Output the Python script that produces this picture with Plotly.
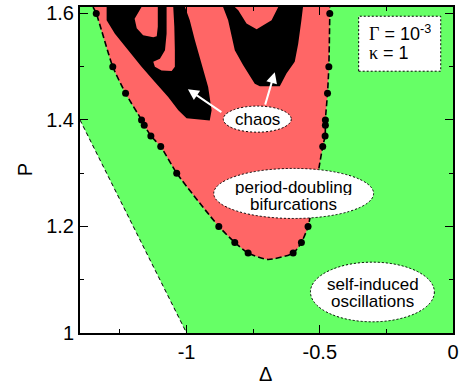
import plotly.graph_objects as go

# ---- data ----
# dots on the boundary of the period-doubling region
left_delta = [-1.339, -1.277, -1.229, -1.169, -1.159, -1.134, -1.097, -1.037, -0.879, -0.819, -0.769]
left_P = [1.60, 1.50, 1.45, 1.40, 1.39, 1.37, 1.35, 1.30, 1.20, 1.17, 1.15]
right_delta = [-0.600, -0.569, -0.544, -0.489, -0.480, -0.479, -0.479, -0.471, -0.466, -0.4625]
right_P = [1.15, 1.17, 1.20, 1.35, 1.37, 1.39, 1.40, 1.45, 1.50, 1.60]
# extra boundary points (top ends and bottom of the curve)
top_left_delta, top_left_P = -1.351, 1.612
bottom_delta, bottom_P = -0.694, 1.138
top_right_delta, top_right_P = -0.4625, 1.612

# instability line (lower-left white region)
line_delta = [-1.4, -1.0]
line_P = [1.4, 1.0]

# chaotic regions (black)
chaos_left_delta = [-1.300, -1.300, -1.269, -1.219, -1.169, -1.119, -1.069, -1.031, -1.000, -0.913,
                    -0.906, -0.919, -0.944, -0.969, -0.988, -1.006,
                    -1.050, -1.046, -1.044, -1.044, -1.056, -1.094, -1.119, -1.125, -1.100, -1.081,
                    -1.075, -1.075,
                    -1.108, -1.108, -1.112, -1.125, -1.163, -1.187, -1.195, -1.169]
chaos_left_P = [1.612, 1.587, 1.562, 1.531, 1.500, 1.471, 1.443, 1.418, 1.403, 1.399,
                1.418, 1.462, 1.506, 1.550, 1.587, 1.612,
                1.612, 1.575, 1.531, 1.500, 1.492, 1.493, 1.500, 1.509, 1.515, 1.531,
                1.562, 1.612,
                1.612, 1.575, 1.557, 1.555, 1.559, 1.572, 1.590, 1.612]
chaos_right_delta = [-0.863, -0.844, -0.819, -0.788, -0.744, -0.725, -0.650, -0.625, -0.594, -0.581,
                     -0.569, -0.563, -0.656, -0.681, -0.737, -0.775, -0.806, -0.819]
chaos_right_P = [1.612, 1.587, 1.531, 1.503, 1.468, 1.463, 1.463, 1.487, 1.509, 1.543,
                 1.587, 1.612, 1.612, 1.587, 1.570, 1.581, 1.606, 1.612]

x_tickvals = [-1, -0.5, 0]
x_ticktext = ["-1", "-0.5", "0"]
y_tickvals = [1, 1.2, 1.4, 1.6]
y_ticktext = ["1", "1.2", "1.4", "1.6"]

RED = "rgb(255,102,102)"
GREEN = "rgb(102,255,102)"
FONT = "Liberation Sans, Arial, Helvetica, sans-serif"

bnd_delta = [top_left_delta] + left_delta + [bottom_delta] + right_delta + [top_right_delta]
bnd_P = [top_left_P] + left_P + [bottom_P] + right_P + [top_right_P]

fig = go.Figure()

# white triangle (below instability line)
fig.add_trace(go.Scatter(x=line_delta + [line_delta[0]], y=line_P + [line_P[1]],
                         fill="toself", fillcolor="white", mode="none", hoverinfo="skip"))
fig.add_trace(go.Scatter(x=line_delta, y=line_P, mode="lines",
                         line=dict(color="black", width=1, dash="4px,3px")))

# red region
fig.add_trace(go.Scatter(x=bnd_delta, y=bnd_P, fill="toself", fillcolor=RED, mode="none",
                         line=dict(shape="spline", smoothing=0.6)))
# black chaos regions
fig.add_trace(go.Scatter(x=chaos_left_delta, y=chaos_left_P, fill="toself", fillcolor="black",
                         mode="none"))
fig.add_trace(go.Scatter(x=chaos_right_delta, y=chaos_right_P, fill="toself", fillcolor="black",
                         mode="none"))
# dashed boundary
fig.add_trace(go.Scatter(x=bnd_delta, y=bnd_P, mode="lines",
                         line=dict(color="black", width=1.6, dash="6px,3px", shape="spline", smoothing=0.6)))
# dots
fig.add_trace(go.Scatter(x=left_delta + right_delta, y=left_P + right_P, mode="markers",
                         marker=dict(color="black", size=7)))

dash_line = dict(color="black", width=1, dash="2px,2px")
shapes = [
    dict(type="circle", xref="x", yref="y", x0=-0.862, x1=-0.607, y0=1.377, y1=1.426,
         fillcolor="white", line=dash_line, layer="above"),
    dict(type="circle", xref="x", yref="y", x0=-0.898, x1=-0.298, y0=1.215, y1=1.309,
         fillcolor="white", line=dash_line, layer="above"),
    dict(type="circle", xref="x", yref="y", x0=-0.535, x1=-0.07, y0=1.021, y1=1.133,
         fillcolor="white", line=dash_line, layer="above"),
    dict(type="rect", xref="x", yref="y", x0=-0.354, x1=-0.046, y0=1.4915, y1=1.5947,
         fillcolor="white", line=dash_line, layer="above"),
]

tf = dict(family=FONT, size=17, color="black")
bf = dict(family=FONT, size=18, color="black")
C = dict(xanchor="center", yanchor="middle", showarrow=False)
annotations = [
    # arrows from "chaos"
    dict(x=-0.995, y=1.4577, xref="x", yref="y", ax=35, ay=24, text="", showarrow=True,
         arrowhead=2, arrowsize=1.1, arrowwidth=2, arrowcolor="white"),
    dict(x=-0.669, y=1.4897, xref="x", yref="y", ax=-10, ay=34, text="", showarrow=True,
         arrowhead=2, arrowsize=1.1, arrowwidth=2, arrowcolor="white"),
    dict(x=-0.7344, y=1.4013, xref="x", yref="y", text="chaos", font=tf, **C),
    dict(x=-0.5976, y=1.2745, xref="x", yref="y", text="period-doubling", font=tf, height=16, **C),
    dict(x=-0.5976, y=1.2425, xref="x", yref="y", text="bifurcations", font=tf, height=16, **C),
    dict(x=-0.302, y=1.0925, xref="x", yref="y", text="self-induced", font=tf, height=16, **C),
    dict(x=-0.302, y=1.0595, xref="x", yref="y", text="oscillations", font=tf, height=16, **C),
    dict(x=-0.322, y=1.563, xref="x", yref="y", xanchor="left", yanchor="middle", height=18,
         text="<span style='font-family:Liberation Serif'>Γ</span> = 10<sup>-3</sup>",
         showarrow=False, font=bf),
    dict(x=-0.322, y=1.527, xref="x", yref="y", xanchor="left", yanchor="middle", height=17,
         text="<span style='font-family:Liberation Serif'>κ</span> = 1", showarrow=False, font=bf),
    # axis titles
    dict(x=-0.147, y=0.5, xref="paper", yref="paper", text="P", textangle=-90,
         font=dict(family=FONT, size=20, color="black"), **C),
    dict(x=0.496, y=-0.125, xref="paper", yref="paper", text="Δ",
         font=dict(family=FONT, size=20, color="black"), **C),
]

axis_common = dict(showgrid=False, zeroline=False, showline=True, linecolor="black", linewidth=2,
                   ticks="inside", ticklen=8, tickwidth=1, tickcolor="black", mirror="allticks",
                   automargin=False, tickfont=dict(family=FONT, size=20, color="black"))

fig.update_layout(
    width=461, height=386,
    margin=dict(l=80, r=8, t=7, b=53, autoexpand=False),
    paper_bgcolor="white", plot_bgcolor=GREEN,
    showlegend=False,
    shapes=shapes, annotations=annotations,
    xaxis=dict(range=[-1.4, 0], tickmode="array", tickvals=x_tickvals, ticktext=x_ticktext,
               minor=dict(tickvals=[-1.25, -0.75, -0.25], ticklen=4, ticks="inside", tickcolor="black"),
               **axis_common),
    yaxis=dict(range=[1, 1.612], tickmode="array", tickvals=y_tickvals, ticktext=y_ticktext,
               minor=dict(tickvals=[1.1, 1.3, 1.5], ticklen=4, ticks="inside", tickcolor="black"),
               **axis_common),
)

fig.write_html("out.html")
